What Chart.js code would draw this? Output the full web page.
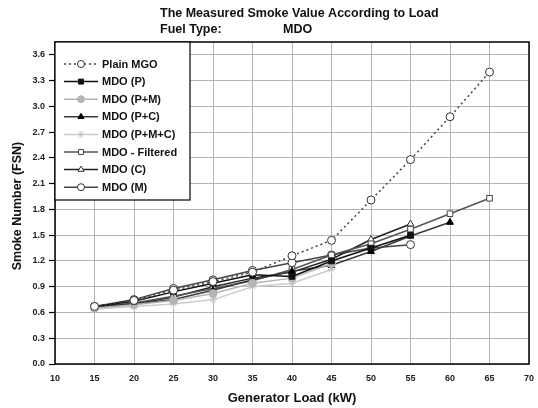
<!DOCTYPE html>
<html>
<head>
<meta charset="utf-8">
<script src="https://cdn.jsdelivr.net/npm/chart.js@4/dist/chart.umd.min.js"></script>
<style>
  html, body { margin: 0; padding: 0; background: #fff; }
</style>
</head>
<body>
<canvas id="smoke-chart" width="538" height="408"></canvas>
<script>
// Generator load steps (kW)
const loads = [15, 20, 25, 30, 35, 40, 45, 50, 55, 60, 65];

// Smoke number (FSN) per series
const plainMGO    = [0.67, 0.74, 0.86, 0.96, 1.07, 1.26, 1.44, 1.91, 2.38, 2.88, 3.40];
const mdoP        = [0.67, 0.73, 0.84, 0.94, 1.04, 1.02, 1.20, 1.35, 1.50];
const mdoPM       = [0.65, 0.69, 0.74, 0.82, 0.94, 1.00, 1.17];
const mdoPC       = [0.67, 0.70, 0.75, 0.86, 0.98, 1.08, 1.15, 1.31, 1.49, 1.65];
const mdoPMC      = [0.64, 0.67, 0.70, 0.75, 0.90, 0.94, 1.10];
const mdoFiltered = [0.66, 0.71, 0.79, 0.88, 0.97, 1.10, 1.27, 1.40, 1.57, 1.75, 1.93];
const mdoC        = [0.67, 0.70, 0.78, 0.90, 1.00, 1.07, 1.22, 1.45, 1.63];
const mdoM        = [0.67, 0.75, 0.88, 0.98, 1.09, 1.18, 1.27, 1.35, 1.39];

const titleLine1 = 'The Measured Smoke Value According to Load';
const fuelLabel = 'Fuel Type:';
const fuelName = 'MDO';
const xTitle = 'Generator Load (kW)';
const yTitle = 'Smoke Number (FSN)';

const FONT = '"Liberation Sans", Arial, sans-serif';

function toPoints(values) {
    return values.map((v, i) => ({ x: loads[i], y: v }));
}

function makeSeries(label, values, lineColor, pointStyle, pointFill, pointStroke, dash) {
    return {
        label: label,
        data: toPoints(values),
        borderColor: lineColor,
        borderWidth: 1.5,
        borderDash: dash || [],
        pointStyle: pointStyle,
        pointRadius: 4,
        pointBorderWidth: 1,
        pointBackgroundColor: pointFill,
        pointBorderColor: pointStroke,
        fill: false,
        tension: 0
    };
}

const datasets = [
    makeSeries('Plain MGO', plainMGO, '#444', 'circle', '#fff', '#333', [2, 3]),
    makeSeries('MDO (P)', mdoP, '#111', 'rect', '#111', '#111'),
    makeSeries('MDO (P+M)', mdoPM, '#b4b4b4', 'circle', '#b4b4b4', '#b4b4b4'),
    makeSeries('MDO (P+C)', mdoPC, '#3a3a3a', 'triangle', '#000', '#000'),
    makeSeries('MDO (P+M+C)', mdoPMC, '#cccccc', 'star', '#cccccc', '#c4c4c4'),
    makeSeries('MDO - Filtered', mdoFiltered, '#555', 'rect', '#fff', '#444'),
    makeSeries('MDO (C)', mdoC, '#222', 'triangle', '#fff', '#333'),
    makeSeries('MDO (M)', mdoM, '#444', 'circle', '#fff', '#333')
];

// Frame, titles and the boxed legend drawn over the plot
const decorPlugin = {
    id: 'decor',
    afterDraw(chart) {
        const ctx = chart.ctx;
        const area = chart.chartArea;
        ctx.save();

        // plot frame
        ctx.strokeStyle = '#000';
        ctx.lineWidth = 1.5;
        ctx.strokeRect(area.left, area.top, area.right - area.left, area.bottom - area.top);

        // titles
        ctx.fillStyle = '#111';
        ctx.textBaseline = 'middle';
        ctx.textAlign = 'left';
        ctx.font = 'bold 12.5px ' + FONT;
        ctx.fillText(titleLine1, 160, 14);
        ctx.fillText(fuelLabel, 160, 30);
        ctx.fillText(fuelName, 283, 30);

        ctx.textAlign = 'center';
        ctx.font = 'bold 13px ' + FONT;
        ctx.fillText(xTitle, 292, 398);

        ctx.save();
        ctx.translate(18, 206);
        ctx.rotate(-Math.PI / 2);
        ctx.font = 'bold 12.5px ' + FONT;
        ctx.fillText(yTitle, 0, 0);
        ctx.restore();

        // legend box
        const boxLeft = area.left, boxTop = area.top, boxRight = 190, boxBottom = 200;
        ctx.fillStyle = '#fff';
        ctx.fillRect(boxLeft, boxTop, boxRight - boxLeft, boxBottom - boxTop);
        ctx.strokeStyle = '#000';
        ctx.lineWidth = 1.2;
        ctx.strokeRect(boxLeft, boxTop, boxRight - boxLeft, boxBottom - boxTop);

        ctx.font = 'bold 11px ' + FONT;
        ctx.textAlign = 'left';
        chart.data.datasets.forEach((ds, i) => {
            const y = 64 + i * 17.6;
            ctx.strokeStyle = ds.borderColor;
            ctx.lineWidth = ds.borderWidth;
            ctx.setLineDash(ds.borderDash);
            ctx.beginPath();
            ctx.moveTo(64, y);
            ctx.lineTo(98, y);
            ctx.stroke();
            ctx.setLineDash([]);
            ctx.fillStyle = ds.pointBackgroundColor;
            ctx.strokeStyle = ds.pointBorderColor;
            ctx.lineWidth = 1;
            Chart.helpers.drawPoint(ctx, {
                pointStyle: ds.pointStyle,
                radius: 3.5,
                rotation: 0,
                borderWidth: 1
            }, 81, y);
            ctx.fillStyle = '#111';
            ctx.fillText(ds.label, 102, y + 0.5);
        });

        ctx.restore();
    }
};

function renderSmokeChart() {
    const ctx = document.getElementById('smoke-chart').getContext('2d');
    new Chart(ctx, {
        type: 'line',
        data: { datasets: datasets },
        options: {
            responsive: false,
            animation: false,
            layout: { padding: { top: 42, right: 9, left: 0, bottom: 0 } },
            plugins: {
                legend: { display: false },
                tooltip: { enabled: false }
            },
            scales: {
                x: {
                    type: 'linear',
                    min: 10,
                    max: 70,
                    border: { display: false },
                    grid: {
                        color: '#b4b4b4',
                        borderDash: [1, 2],
                        drawTicks: false
                    },
                    ticks: {
                        stepSize: 5,
                        padding: 9,
                        maxRotation: 0,
                        color: '#222',
                        font: { family: FONT, size: 9, weight: 'bold' }
                    },
                    afterFit: function(scale) {
                        scale.height = 44;
                        scale.paddingLeft = 0;
                        scale.paddingRight = 0;
                    }
                },
                y: {
                    min: 0,
                    max: 3.75,
                    border: { display: false },
                    grid: {
                        color: '#b4b4b4',
                        borderDash: [1, 2],
                        tickLength: 6,
                        tickColor: '#000',
                        tickBorderDash: [],
                        tickWidth: 1.2
                    },
                    ticks: {
                        stepSize: 0.3,
                        includeBounds: false,
                        padding: 4,
                        color: '#222',
                        font: { family: FONT, size: 9, weight: 'bold' },
                        callback: function(value) { return Number(value).toFixed(1); }
                    },
                    afterFit: function(scale) {
                        scale.width = 55;
                        scale.paddingTop = 0;
                        scale.paddingBottom = 0;
                    }
                }
            }
        },
        plugins: [decorPlugin]
    });
}

window.onload = renderSmokeChart;
</script>
</body>
</html>
